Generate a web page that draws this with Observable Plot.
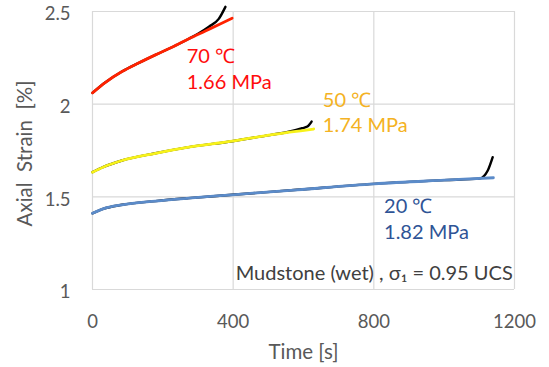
<!DOCTYPE html>
<html>
<head>
<meta charset="utf-8">
<script src="https://cdn.jsdelivr.net/npm/d3@7"></script>
<script src="https://cdn.jsdelivr.net/npm/@observablehq/plot@0.6"></script>
<style>
  html, body { margin: 0; padding: 0; background: #fff; }
  #chart svg { overflow: visible; display: block; }
</style>
</head>
<body>
<div id="chart"></div>
<script>
// ---- data ----
const xTicks = [0, 400, 800, 1200];
const yTicks = [1, 1.5, 2, 2.5];

// 70 °C
const time70Fit = [0, 37, 84, 132, 179, 226, 274, 321, 360, 397];
const strain70Fit = [2.061, 2.118, 2.176, 2.223, 2.266, 2.307, 2.353, 2.395, 2.430, 2.464];
const time70Meas = [0, 37, 84, 132, 179, 226, 274, 300, 331, 359, 378];
const strain70Meas = [2.061, 2.118, 2.176, 2.223, 2.266, 2.307, 2.353, 2.380, 2.418, 2.460, 2.525];

// 50 °C
const time50Fit = [0, 30, 84, 179, 274, 397, 511, 629];
const strain50Fit = [1.633, 1.660, 1.696, 1.735, 1.768, 1.800, 1.836, 1.866];
const time50Meas = [0, 30, 84, 179, 274, 397, 511, 558, 596, 611, 623];
const strain50Meas = [1.633, 1.660, 1.696, 1.735, 1.768, 1.800, 1.836, 1.851, 1.870, 1.879, 1.906];

// 20 °C
const time20Fit = [0, 30, 84, 179, 274, 397, 582, 801, 1000, 1140];
const strain20Fit = [1.411, 1.435, 1.457, 1.477, 1.493, 1.511, 1.538, 1.570, 1.590, 1.603];
const time20Meas = [0, 30, 84, 179, 274, 397, 582, 801, 1000, 1100, 1124, 1138];
const strain20Meas = [1.411, 1.435, 1.457, 1.477, 1.493, 1.511, 1.538, 1.570, 1.590, 1.598, 1.642, 1.714];

// annotations
const labelText = ["70 ℃", "1.66 MPa", "50 ℃", "1.74 MPa", "20 ℃", "1.82 MPa"];
const labelTime = [268, 268, 655, 655, 829, 829];
const labelStrain = [2.257, 2.117, 2.020, 1.885, 1.448, 1.307];
const labelGroup = ["70", "70", "50", "50", "20", "20"];
const noteText = "Mudstone (wet) , σ₁ = 0.95 UCS";
const yTitle = "Axial  Strain  [%]";
const xTitle = "Time [s]";

// ---- build tables ----
const zip = (ts, vs) => ts.map((t, i) => ({t, v: vs[i]}));
const fit70 = zip(time70Fit, strain70Fit), meas70 = zip(time70Meas, strain70Meas);
const fit50 = zip(time50Fit, strain50Fit), meas50 = zip(time50Meas, strain50Meas);
const fit20 = zip(time20Fit, strain20Fit), meas20 = zip(time20Meas, strain20Meas);
const labels = labelText.map((s, i) => ({s, t: labelTime[i], v: labelStrain[i], g: labelGroup[i]}));

const textColor = {"70": "#ff0d0d", "50": "#f4b223", "20": "#2f5496"};
const font = "Lato, 'Open Sans', sans-serif";
const grid = "#d9d9d9";

const chart = Plot.plot({
  width: 549,
  height: 367,
  marginLeft: 92,
  marginRight: 35,
  marginTop: 11,
  marginBottom: 78,
  style: {fontFamily: font, background: "#fff", overflow: "visible"},
  x: {domain: [0, 1200]},
  y: {domain: [1, 2.5]},
  marks: [
    Plot.ruleX(xTicks, {stroke: grid, strokeWidth: 1.2}),
    Plot.ruleY(yTicks, {stroke: grid, strokeWidth: 1.2}),
    Plot.axisX({ticks: xTicks, tickFormat: d3.format("d"), tickSize: 0, tickPadding: 25, fontSize: 18.5, color: "#595959", label: null}),
    Plot.axisY({ticks: yTicks, tickFormat: d3.format("~g"), tickSize: 0, tickPadding: 22, fontSize: 18.5, color: "#595959", label: null, dy: 3}),
    Plot.text([yTitle], {frameAnchor: "left", textAnchor: "middle", lineAnchor: "middle", rotate: -90, dx: -67, dy: 3, fontSize: 20.5, fill: "#595959"}),
    Plot.text([xTitle], {frameAnchor: "bottom", textAnchor: "middle", lineAnchor: "middle", dy: 63, fontSize: 20.5, fill: "#595959"}),
    // measured (black)
    Plot.line(meas70, {x: "t", y: "v", stroke: "#000", strokeWidth: 2.4, curve: "monotone-x"}),
    Plot.line(meas50, {x: "t", y: "v", stroke: "#000", strokeWidth: 2.4, curve: "monotone-x"}),
    Plot.line(meas20, {x: "t", y: "v", stroke: "#000", strokeWidth: 2.4, curve: "monotone-x"}),
    // fitted (coloured)
    Plot.line(fit70, {x: "t", y: "v", stroke: "#ff2200", strokeWidth: 2.8, curve: "monotone-x"}),
    Plot.line(fit50, {x: "t", y: "v", stroke: "#f7f21a", strokeWidth: 2.8, curve: "monotone-x"}),
    Plot.line(fit20, {x: "t", y: "v", stroke: "#5b8bc9", strokeWidth: 2.8, curve: "monotone-x"}),
    Plot.text(labels, {x: "t", y: "v", text: "s", fill: d => textColor[d.g], textAnchor: "start", fontSize: 20}),
    Plot.text([noteText], {x: 1195, y: 1.086, textAnchor: "end", fontSize: 20, fill: "#404040"})
  ]
});
document.getElementById("chart").appendChild(chart);
</script>
</body>
</html>
